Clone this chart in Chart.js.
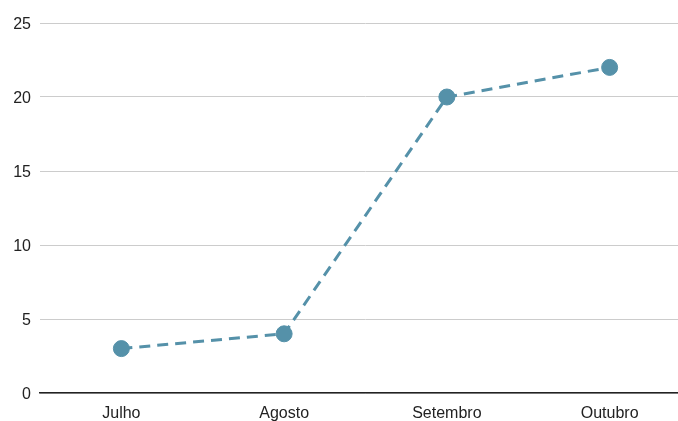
<!DOCTYPE html>
<html>
<head>
<meta charset="utf-8">
<script src="https://cdn.jsdelivr.net/npm/chart.js@4"></script>
<style>
    html, body { margin: 0; padding: 0; background: #fff; overflow: hidden; width: 678px; height: 421px; }
    canvas { display: block; }
</style>
</head>
<body>
<canvas id="chart" width="700" height="421"></canvas>
<script>
var months = ['Julho', 'Agosto', 'Setembro', 'Outubro'];
var values = [3, 4, 20, 22];
var yTicks = [0, 5, 10, 15, 20, 25];

var lineColor = '#5591a9';
var fontFamily = "'Liberation Sans', Arial, sans-serif";

new Chart(document.getElementById('chart'), {
    type: 'line',
    data: {
        labels: months,
        datasets: [{
            data: values,
            borderColor: lineColor,
            backgroundColor: lineColor,
            borderWidth: 3,
            borderDash: [11, 7],
            fill: false,
            tension: 0,
            pointRadius: 8,
            pointHoverRadius: 8,
            pointBackgroundColor: lineColor,
            pointBorderColor: lineColor,
            pointBorderWidth: 1
        }]
    },
    options: {
        responsive: false,
        animation: false,
        layout: { padding: { top: 23, right: 0, bottom: 0, left: 0 } },
        plugins: {
            legend: { display: false },
            tooltip: { enabled: false }
        },
        scales: {
            x: {
                offset: true,
                grid: { display: false, drawTicks: false },
                border: { display: true, color: '#222', width: 1.5 },
                ticks: {
                    color: '#222',
                    padding: 11,
                    maxRotation: 0,
                    font: { family: fontFamily, size: 16 }
                },
                afterFit: function(scale) { scale.height = 28; }
            },
            y: {
                min: 0,
                max: 25,
                afterBuildTicks: function(scale) {
                    scale.ticks = yTicks.map(function(v) { return { value: v }; });
                },
                grid: { color: '#cccccc', lineWidth: 1, drawTicks: false },
                border: { display: false },
                ticks: {
                    color: '#222',
                    padding: 9,
                    labelOffset: 2,
                    font: { family: fontFamily, size: 16 }
                },
                afterFit: function(scale) { scale.width = 40; }
            }
        }
    }
});
</script>
</body>
</html>
